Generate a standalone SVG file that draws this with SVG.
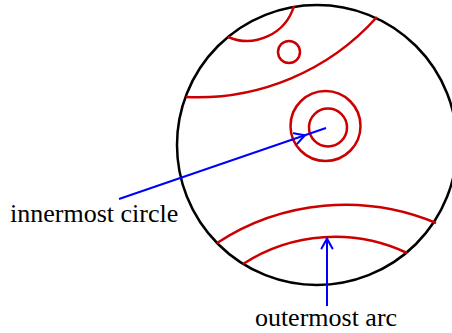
<svg xmlns="http://www.w3.org/2000/svg" width="452" height="333" viewBox="0 0 452 333">
  <style>
    .disk { fill: none; stroke: #000; stroke-width: 2.5; }
    .red { fill: none; stroke: #cc0000; stroke-width: 2.5; }
    .blue { fill: none; stroke: #0000ff; stroke-width: 2; }
    .lbl { font-family: "Liberation Serif", "Times New Roman", serif; font-size: 26px; fill: #000; }
  </style>
  <defs>
    <path id="tip" d="M-10,-5.5 Q-3,-1.5 0,0 Q-3,1.5 -10,5.5" fill="none" stroke="#0000ff" stroke-width="2" stroke-linecap="round"/>
  </defs>
  <rect width="452" height="333" fill="#fff"/>
  <g id="disk">
    <circle class="disk" cx="317" cy="145" r="140"/>
  </g>
  <g id="arc-top-small">
    <path class="red" d="M228,37 A49,49 0 0 0 294,6"/>
  </g>
  <g id="circle-small">
    <circle class="red" cx="289" cy="52" r="11"/>
  </g>
  <g id="arc-top-large">
    <path class="red" d="M186,97 A241,241 0 0 0 377,17"/>
  </g>
  <g id="circle-outer">
    <circle class="red" cx="325.5" cy="126" r="35"/>
  </g>
  <g id="innermost-circle">
    <circle class="red" cx="328" cy="127.5" r="19"/>
  </g>
  <g id="arc-bottom-inner">
    <path class="red" d="M217,243 A235,235 0 0 1 436,223"/>
  </g>
  <g id="outermost-arc">
    <path class="red" d="M243,264 A169,169 0 0 1 407,253"/>
  </g>
  <g id="label-innermost">
    <text class="lbl" x="10" y="222">innermost circle</text>
  </g>
  <g id="label-outermost">
    <text class="lbl" x="326" y="326" text-anchor="middle">outermost arc</text>
  </g>
  <g id="connectors">
    <line class="blue" x1="119" y1="199" x2="326" y2="128"/>
    <use href="#tip" transform="translate(305,135.2) rotate(-18.9)"/>
    <line class="blue" x1="327" y1="306" x2="327" y2="239"/>
    <use href="#tip" transform="translate(327,238.5) rotate(-90)"/>
  </g>
</svg>
